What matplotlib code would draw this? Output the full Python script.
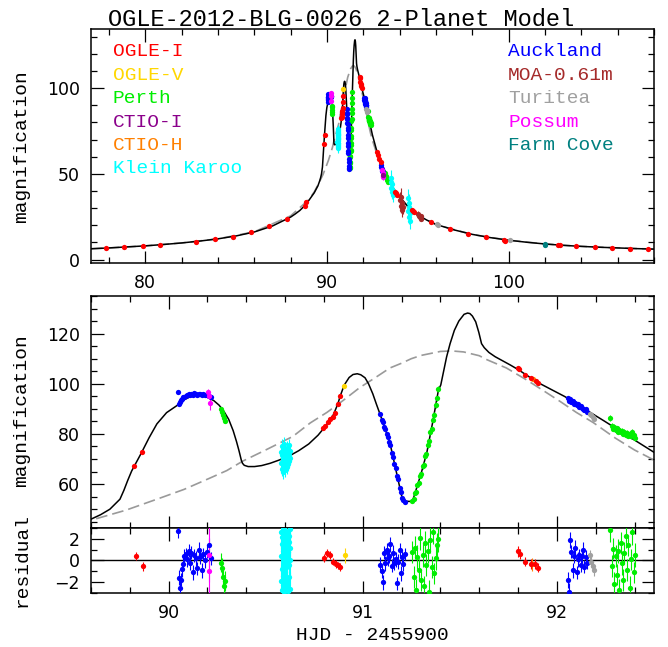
import matplotlib
matplotlib.use("Agg")
import matplotlib.pyplot as plt
from matplotlib.ticker import MultipleLocator

# model light curves (HJD-2455900, magnification)
model_t = [77.0, 78.0, 79.0, 80.0, 81.0, 82.0, 83.0, 84.0, 85.0, 86.0, 87.0, 88.0, 88.25, 88.5,
           88.75, 89.0, 89.15, 89.3, 89.4, 89.5, 89.6, 89.65, 89.698, 89.72, 89.75, 89.77, 89.79,
           89.81, 89.86, 89.90, 89.94, 89.99, 90.043, 90.08, 90.123, 90.16, 90.193, 90.233,
           90.26, 90.283, 90.31, 90.333, 90.35, 90.363, 90.375, 90.381, 90.39, 90.41, 90.443,
           90.48, 90.523, 90.57, 90.623, 90.67, 90.722, 90.77, 90.80, 90.822, 90.85, 90.872,
           90.885, 90.905, 90.93, 90.95, 90.972, 90.99, 91.012, 91.03, 91.052, 91.07, 91.092,
           91.14, 91.16, 91.18, 91.20, 91.21, 91.215, 91.245, 91.255, 91.26, 91.28, 91.30,
           91.33, 91.36, 91.39, 91.402, 91.432, 91.45, 91.472, 91.495, 91.522, 91.54, 91.552,
           91.565, 91.582, 91.598, 91.612, 91.626, 91.65, 91.682, 91.72, 91.76, 91.802,
           91.90, 92.041, 92.14, 92.241, 92.37, 92.5, 92.75, 93.0, 93.3, 93.6,
           94.0, 94.5, 95.0, 95.5, 96.0, 97.0, 98.0, 99.0, 100.0, 101.0, 102.0, 103.0, 104.0,
           105.0, 106.0, 107.0, 108.0]
model_A = [6.3, 6.8, 7.4, 8.0, 8.8, 9.7, 10.8, 12.1, 13.8, 16.1, 19.6, 24.8, 26.6, 28.6,
           31.2, 34.5, 36.8, 39.0, 41.0, 43.0, 46.0, 47.8, 50.0, 51.7, 54.0, 57.5, 61.5,
           65.2, 72.4, 78.5, 84.0, 88.5, 91.3, 93.6, 95.3, 95.6, 94.9, 93.3,
           91.5, 89.3, 85.8, 81.3, 77.0, 73.3, 69.5, 68.3, 67.5, 67.0, 67.0,
           67.4, 68.3, 69.6, 71.3, 73.3, 76.0, 79.5, 82.3, 84.6, 87.8, 92.0,
           95.3, 99.5, 102.5, 103.7, 104.0, 103.6, 102.4, 100.0, 96.0, 92.0, 87.3,
           76.5, 69.5, 62.5, 55.5, 53.6, 53.2, 53.1, 53.3, 54.0, 59.0, 64.0,
           72.5, 84.5, 97.5, 99.5, 110.7, 116.0, 121.3, 125.0, 127.7, 128.2, 128.0,
           127.0, 124.7, 120.5, 116.0, 114.4, 112.5, 110.8, 109.2, 107.5, 105.6,
           100.6, 94.9, 90.1, 85.3, 79.0, 72.7, 63.0, 56.0, 49.0, 42.5,
           36.5, 30.5, 26.0, 23.0, 20.5, 17.3, 14.7, 12.8, 11.3, 10.1, 9.1, 8.3, 7.7,
           7.2, 6.8, 6.4, 6.1]

pspl_t = [77.0, 78.0, 80.0, 82.0, 84.0, 86.0, 88.0, 89.0, 89.3, 89.6, 89.78, 89.955, 90.08,
          90.213, 90.3, 90.383, 90.5, 90.64, 90.73, 90.816, 90.9, 90.985, 91.06, 91.14, 91.2,
          91.25, 91.3, 91.40, 91.46, 91.52, 91.6, 91.64, 91.74, 91.845, 91.93, 92.016, 92.1,
          92.188, 92.3, 92.4, 92.5, 92.75, 93.0, 93.3, 93.6, 94.0, 94.5, 95.0, 96.0, 98.0,
          100.0, 102.0, 104.0, 106.0, 108.0]
pspl_A = [6.3, 6.8, 8.0, 9.7, 12.1, 16.2, 25.5, 35.0, 39.5, 45.6, 49.6, 54.4, 57.9,
          62.4, 65.4, 69.2, 73.6, 79.0, 84.4, 88.6, 93.4, 98.5, 102.2, 106.3, 108.2,
          110.0, 111.3, 112.9, 113.1, 112.7, 111.2, 109.6, 106.3, 101.5, 97.3, 93.0, 88.6,
          84.5, 78.4, 73.6, 69.6, 61.5, 54.5, 48.0, 42.0, 36.0, 30.2, 25.8, 20.4, 14.6,
          11.3, 9.1, 7.7, 6.8, 6.1]

# OGLE-I
ogle_i_t = [77.85, 78.85, 79.85, 80.80, 82.80, 83.84, 84.83, 85.80, 86.80, 87.80, 88.78, 88.83,
            89.82, 89.864, 90.795, 90.808, 90.820, 90.834, 90.846, 90.858, 90.872, 90.885,
            91.800, 91.806, 91.836, 91.867, 91.890, 91.905, 92.75, 92.80, 92.88, 92.95,
            93.75, 93.80, 93.85, 94.66, 94.71, 94.77, 95.73, 96.75, 97.74, 98.74, 99.72, 99.80,
            102.70, 102.80, 103.73, 104.73, 105.70, 106.68, 107.66]
ogle_i_A = [6.6, 7.4, 7.8, 8.6, 10.3, 11.9, 13.4, 16.0, 19.3, 23.9, 31.2, 33.6,
            67.3, 72.9, 82.4, 83.3, 84.9, 86.0, 86.9, 88.3, 92.0, 95.3,
            106.3, 105.7, 103.7, 102.4, 101.3, 100.3, 62.5, 61.0, 58.6, 56.8,
            39.3, 38.6, 37.9, 29.2, 28.6, 27.9, 21.8, 17.9, 15.0, 13.0, 11.3, 11.1,
            8.4, 8.3, 7.8, 7.2, 6.8, 6.4, 6.2]
ogle_i_e = [0.3, 0.3, 0.3, 0.3, 0.3, 0.3, 0.4, 0.4, 0.4, 0.5, 0.6, 0.6,
            0.5, 0.5, 0.5, 0.5, 0.5, 0.5, 0.5, 0.5, 0.5, 0.5,
            0.6, 0.6, 0.6, 0.6, 0.6, 0.6, 0.6, 0.6, 0.6, 0.6,
            0.6, 0.6, 0.6, 0.5, 0.5, 0.5, 0.5, 0.4, 0.4, 0.4, 0.4, 0.4,
            0.3, 0.3, 0.3, 0.3, 0.3, 0.3, 0.3]
ogle_i_rt = [89.83, 89.87, 90.80, 90.815, 90.83, 90.845, 90.86, 90.875, 90.885,
             91.80, 91.81, 91.835, 91.865, 91.885, 91.905]
ogle_i_r = [0.4, -0.55, 0.25, 0.7, 0.5, -0.1, -0.3, -0.45, -0.6,
            0.85, 0.6, -0.1, -0.3, -0.3, -0.65]
ogle_i_re = [0.4, 0.4, 0.35, 0.35, 0.35, 0.35, 0.35, 0.35, 0.35,
             0.5, 0.5, 0.45, 0.45, 0.45, 0.45]

# OGLE-V
ogle_v_t = [90.905]
ogle_v_A = [99.3]
ogle_v_e = [0.7]
ogle_v_rt = [90.907]
ogle_v_r = [0.47]
ogle_v_re = [0.7]

# Perth
perth_t = [90.270, 90.275, 90.280, 90.285, 90.290,
           91.255, 91.262, 91.268, 91.275, 91.282, 91.288, 91.295, 91.302, 91.308, 91.315,
           91.322, 91.328, 91.335, 91.342, 91.348, 91.355, 91.362, 91.368, 91.375, 91.382, 91.388,
           92.275, 92.282, 92.288, 92.295, 92.302, 92.308, 92.315, 92.322, 92.328, 92.335,
           92.342, 92.348, 92.355, 92.362, 92.368, 92.375, 92.382, 92.388, 92.395, 92.402,
           93.22, 93.25, 93.28, 93.31, 93.34, 93.37]
perth_A = [89.8, 88.9, 87.4, 86.2, 85.1,
           53.2, 54.2, 56.6, 56.9, 59.8, 60.6, 63.3, 64.0, 67.1, 67.8,
           71.2, 72.0, 75.6, 77.0, 80.7, 82.1, 85.7, 87.6, 91.5, 94.2, 97.9,
           86.5, 83.2, 82.0, 82.8, 81.4, 82.3, 80.9, 81.7, 80.6, 81.2,
           80.1, 80.8, 79.7, 80.4, 79.3, 80.0, 79.1, 80.6, 79.5, 78.4,
           50.5, 48.5, 47.8, 46.5, 46.0, 45.5]
perth_e = [0.8, 0.8, 0.8, 0.8, 0.8,
           0.9, 0.9, 1.0, 0.9, 1.0, 0.9, 1.0, 0.9, 1.0, 1.0,
           1.0, 0.9, 1.0, 1.0, 1.1, 1.0, 1.1, 1.0, 1.1, 1.1, 1.2,
           1.2, 1.0, 1.0, 1.1, 1.0, 1.0, 1.1, 1.0, 1.0, 1.1,
           1.0, 1.0, 1.1, 1.0, 1.0, 1.1, 1.0, 1.2, 1.0, 1.1,
           1.5, 1.5, 1.5, 1.5, 1.5, 1.5]
perth_rt = perth_t[:46]
perth_r = [-0.2, -0.7, -1.5, -2.4, -1.9,
           0.8, -1.5, 1.2, -2.7, 0.3, -0.9, 2.1, -1.8, 0.5, -2.4,
           1.6, -0.4, 0.9, -2.9, 1.9, -0.6, 2.6, -1.2, 0.2, 1.4, 2.0,
           2.8, -0.5, 1.1, -2.2, 0.4, -1.3, 0.9, -2.7, 1.6, -0.2,
           -1.8, 0.7, 2.3, -0.9, 1.4, -2.5, 0.1, 2.6, -1.1, 0.5]
perth_re = [0.9, 0.9, 0.9, 0.9, 0.9,
            1.0, 1.0, 1.1, 1.0, 1.1, 1.0, 1.1, 1.0, 1.1, 1.0,
            1.1, 1.0, 1.1, 1.1, 1.2, 1.0, 1.1, 1.0, 1.1, 1.1, 1.2,
            1.1, 1.0, 1.0, 1.1, 1.0, 1.0, 1.1, 1.0, 1.0, 1.1,
            1.0, 1.0, 1.1, 1.0, 1.0, 1.1, 1.0, 1.2, 1.0, 1.1]

# CTIO-I
ctio_i_t = [93.09]
ctio_i_A = [49.5]
ctio_i_e = [1.0]

# CTIO-H
ctio_h_t = [91.875]
ctio_h_A = [101.8]
ctio_h_e = [0.6]
ctio_h_rt = [91.872]
ctio_h_r = [-0.35]
ctio_h_re = [0.6]

# Klein Karoo
kk_t = [90.578, 90.580, 90.582, 90.584, 90.586, 90.588, 90.590, 90.592, 90.594, 90.596,
        90.598, 90.600, 90.602, 90.604, 90.606, 90.608, 90.610, 90.612, 90.614, 90.616,
        90.618, 90.620, 90.622, 90.624, 90.626,
        93.50, 93.52, 93.54, 93.56, 93.58, 93.60, 93.62,
        94.45, 94.47, 94.49, 94.51, 94.53, 94.55, 94.57]
kk_A = [68.5, 73.0, 66.2, 71.8, 75.1, 64.8, 69.9, 72.6, 67.4, 76.0,
        70.8, 65.5, 73.9, 68.1, 71.2, 74.5, 66.8, 70.3, 72.9, 67.9,
        75.4, 69.2, 71.7, 73.4, 70.6,
        47.5, 42.0, 45.5, 39.5, 44.0, 41.0, 37.5,
        36.0, 28.5, 33.0, 25.0, 30.5, 22.5, 27.0]
kk_e = [2.6, 2.4, 2.8, 2.5, 2.7, 2.6, 2.4, 2.5, 2.8, 2.6,
        2.5, 2.7, 2.4, 2.6, 2.5, 2.8, 2.6, 2.4, 2.5, 2.7,
        2.6, 2.5, 2.4, 2.6, 2.5,
        4.5, 4.0, 4.5, 4.0, 4.5, 4.0, 4.0,
        5.0, 4.5, 5.0, 4.5, 5.0, 4.5, 4.5]
kk_rt = [90.577, 90.579, 90.580, 90.582, 90.583, 90.585, 90.586, 90.588, 90.589, 90.591,
         90.592, 90.594, 90.595, 90.597, 90.598, 90.600, 90.601, 90.603, 90.604, 90.606,
         90.607, 90.609, 90.610, 90.612, 90.613, 90.615, 90.616, 90.618, 90.619, 90.621,
         90.622, 90.624, 90.625, 90.627, 90.628]
kk_r = [2.6, -1.9, 0.4, -2.7, 1.5, -0.8, 2.2, -2.3, 0.9, -1.4,
        2.8, -0.2, 1.1, -2.9, 0.6, -1.1, 1.9, -2.5, 0.2, 2.5,
        -0.6, -1.7, 1.3, -2.1, 0.8, 2.7, -2.8, 1.7, -0.4, 2.3,
        -1.5, 0.0, -2.6, 1.2, 2.9]
kk_re = [1.5, 1.6, 1.4, 1.5, 1.6, 1.5, 1.4, 1.6, 1.5, 1.5,
         1.6, 1.4, 1.5, 1.6, 1.5, 1.4, 1.5, 1.6, 1.5, 1.5,
         1.4, 1.6, 1.5, 1.5, 1.6, 1.5, 1.4, 1.6, 1.5, 1.5,
         1.6, 1.4, 1.5, 1.6, 1.5]

# Auckland
auck_t = [90.050, 90.055, 90.060, 90.065, 90.070, 90.075, 90.080, 90.088, 90.095, 90.103,
          90.110, 90.118, 90.125, 90.133, 90.140, 90.148, 90.155, 90.163, 90.170, 90.180,
          90.190, 90.200, 90.210, 90.220,
          91.090, 91.097, 91.103, 91.110, 91.117, 91.123, 91.130, 91.137, 91.143, 91.150,
          91.157, 91.163, 91.170, 91.177, 91.183, 91.190, 91.197, 91.203, 91.210, 91.217,
          92.055, 92.062, 92.068, 92.075, 92.082, 92.088, 92.095, 92.102, 92.108, 92.115,
          92.122, 92.128, 92.135, 92.142, 92.148, 92.155,
          92.98, 93.00, 93.02, 93.04, 93.06]
auck_A = [96.6, 92.0, 92.8, 93.6, 94.0, 94.6, 94.9, 95.3, 95.4, 95.8,
          95.6, 96.0, 95.7, 96.2, 95.9, 95.6, 96.1, 95.8, 95.5, 96.0,
          95.4, 95.7, 95.2, 94.8,
          87.9, 85.7, 84.9, 82.8, 81.8, 79.9, 78.9, 76.8, 75.7, 72.6,
          70.9, 68.2, 66.3, 63.2, 61.9, 58.6, 56.9, 54.5, 53.6, 52.7,
          94.5, 93.2, 94.0, 92.6, 93.1, 91.9, 92.4, 91.5, 91.8, 90.8,
          91.2, 90.3, 90.0, 89.6, 89.9, 88.9,
          55.2, 54.0, 53.1, 51.8, 50.9]
auck_e = [0.8, 0.8, 0.8, 0.8, 0.8, 0.8, 0.8, 0.8, 0.8, 0.8,
          0.8, 0.8, 0.8, 0.8, 0.8, 0.8, 0.8, 0.8, 0.8, 0.8,
          0.8, 0.8, 0.8, 0.8,
          0.7, 0.7, 0.7, 0.7, 0.7, 0.7, 0.7, 0.7, 0.7, 0.7,
          0.7, 0.7, 0.7, 0.7, 0.7, 0.7, 0.7, 0.7, 0.7, 0.7,
          0.8, 0.8, 0.8, 0.8, 0.8, 0.8, 0.8, 0.8, 0.8, 0.8,
          0.8, 0.8, 0.8, 0.8, 0.8, 0.8,
          1.0, 1.0, 1.0, 1.0, 1.0]
auck_rt = auck_t[:60]
auck_r = [2.7, -1.6, -2.5, -1.8, -0.8, -0.3, 0.4, 0.6, 0.1, 0.9,
          -0.2, 0.7, -1.1, 0.5, 0.2, -0.7, 1.0, 0.3, -0.9, 0.6,
          0.0, 0.8, 1.4, 0.2,
          -0.4, -1.0, -2.0, 0.7, -0.25, 1.0, 0.2, 0.4, 1.5, -0.5,
          0.7, -0.25, 0.1, -2.1, -0.1, 1.0, -1.2, 0.3, -0.3, 0.6,
          -1.8, -2.9, 1.9, 0.8, -0.9, 0.4, 1.2, -1.1, 0.1, 0.5,
          -0.4, 0.4, 1.0, -0.6, 0.3, -0.2]
auck_re = [0.6, 0.7, 0.7, 0.6, 0.7, 0.6, 0.7, 0.6, 0.7, 0.6,
           0.7, 0.6, 0.7, 0.6, 0.7, 0.6, 0.7, 0.6, 0.7, 0.6,
           0.7, 0.6, 0.7, 0.6,
           0.7, 0.6, 0.7, 0.6, 0.7, 0.6, 0.7, 0.6, 0.7, 0.6,
           0.7, 0.6, 0.7, 0.6, 0.7, 0.6, 0.7, 0.6, 0.7, 0.6,
           0.7, 0.8, 0.7, 0.6, 0.7, 0.6, 0.7, 0.6, 0.7, 0.6,
           0.7, 0.6, 0.7, 0.6, 0.7, 0.6]

# MOA-0.61m
moa_t = [94.02, 94.05, 94.08, 94.11, 94.14, 94.17, 95.00, 95.05, 95.10, 95.15, 95.20]
moa_A = [34.5, 31.0, 36.5, 29.0, 33.0, 30.5, 26.8, 25.5, 24.8, 25.2, 23.8]
moa_e = [5.0, 4.0, 5.5, 4.0, 4.5, 4.0, 1.5, 1.5, 1.5, 1.5, 1.5]

# Turitea
tur_t = [92.170, 92.178, 92.185, 92.192, 96.08, 96.12, 100.08]
tur_A = [88.0, 87.5, 86.6, 86.0, 20.6, 20.2, 11.2]
tur_e = [0.6, 0.6, 0.6, 0.6, 1.0, 1.0, 1.2]
tur_rt = tur_t[:4]
tur_r = [0.5, -0.1, -0.55, -0.9]
tur_re = [0.5, 0.5, 0.5, 0.5]

# Possum
pos_t = [90.205, 90.210, 90.214, 93.05, 93.07, 93.09, 93.11]
pos_A = [96.9, 95.3, 92.4, 52.0, 50.5, 49.0, 48.0]
pos_e = [0.9, 1.3, 2.8, 1.5, 1.5, 1.5, 1.5]
pos_rt = [90.208, 90.211]
pos_r = [0.5, -1.0]
pos_re = [4.2, 1.0]

# Farm Cove
fc_t = [102.00, 102.02]
fc_A = [9.2, 8.6]
fc_e = [1.3, 1.2]

# drawing order (last on top)
sets = [
    ("Perth", "#00ee00", perth_t, perth_A, perth_e, perth_rt, perth_r, perth_re),
    ("Auckland", "#0000ff", auck_t, auck_A, auck_e, auck_rt, auck_r, auck_re),
    ("Klein Karoo", "#00ffff", kk_t, kk_A, kk_e, kk_rt, kk_r, kk_re),
    ("MOA-0.61m", "#a52a2a", moa_t, moa_A, moa_e, [], [], []),
    ("Turitea", "#a0a0a0", tur_t, tur_A, tur_e, tur_rt, tur_r, tur_re),
    ("Farm Cove", "#008080", fc_t, fc_A, fc_e, [], [], []),
    ("Possum", "#ff00ff", pos_t, pos_A, pos_e, pos_rt, pos_r, pos_re),
    ("CTIO-I", "#8b008b", ctio_i_t, ctio_i_A, ctio_i_e, [], [], []),
    ("CTIO-H", "#ff8000", ctio_h_t, ctio_h_A, ctio_h_e, ctio_h_rt, ctio_h_r, ctio_h_re),
    ("OGLE-V", "#ffd700", ogle_v_t, ogle_v_A, ogle_v_e, ogle_v_rt, ogle_v_r, ogle_v_re),
    ("OGLE-I", "#ff0000", ogle_i_t, ogle_i_A, ogle_i_e, ogle_i_rt, ogle_i_r, ogle_i_re),
]
left_labels = ["OGLE-I", "OGLE-V", "Perth", "CTIO-I", "CTIO-H", "Klein Karoo"]
right_labels = ["Auckland", "MOA-0.61m", "Turitea", "Possum", "Farm Cove"]
colors = {s[0]: s[1] for s in sets}

MONO = "Liberation Mono"

fig = plt.figure(figsize=(6.68, 6.47), dpi=100)
ax1 = fig.add_axes([0.136, 0.5935, 0.843, 0.3617])
ax2 = fig.add_axes([0.136, 0.1839, 0.843, 0.3586])
ax3 = fig.add_axes([0.136, 0.0835, 0.843, 0.1004])


def style(ax):
    ax.tick_params(which="both", direction="in", top=True, right=True, width=0.9,
                   labelsize=12.5, pad=8)
    ax.tick_params(which="major", length=9)
    ax.tick_params(which="minor", length=4.5)
    for s in ax.spines.values():
        s.set_linewidth(1.1)


def draw_points(ax, t, A, e, c, ms=3.8):
    if len(t) == 0:
        return
    ax.errorbar(t, A, yerr=e, fmt="o", ms=ms, color=c, ecolor=c, mew=0,
                elinewidth=0.8, capsize=1.4, capthick=0.8, zorder=3)


for ax in (ax1, ax2):
    ax.plot(pspl_t, pspl_A, color="#9a9a9a", lw=1.2, dashes=(7, 3), zorder=2)
    ax.plot(model_t, model_A, color="black", lw=1.1, zorder=2, solid_joinstyle="round")
    for name, c, t, A, e, rt, r, re in sets:
        draw_points(ax, t, A, e, c)

for name, c, t, A, e, rt, r, re in sets:
    draw_points(ax3, rt, r, re, c)
ax3.axhline(0, color="black", lw=1.0, zorder=2)

# top panel
ax1.set_xlim(77, 108)
ax1.set_ylim(-2, 134.5)
ax1.xaxis.set_major_locator(MultipleLocator(10))
ax1.xaxis.set_minor_locator(MultipleLocator(2))
ax1.yaxis.set_major_locator(MultipleLocator(50))
ax1.yaxis.set_minor_locator(MultipleLocator(10))
style(ax1)
for i, lab in enumerate(left_labels):
    ax1.text(0.039, 0.902 - i * 0.1, lab, transform=ax1.transAxes, color=colors[lab],
             fontsize=14, family=MONO, va="center", ha="left")
for i, lab in enumerate(right_labels):
    ax1.text(0.741, 0.902 - i * 0.1, lab, transform=ax1.transAxes, color=colors[lab],
             fontsize=14, family=MONO, va="center", ha="left")

# zoom panel
ax2.set_xlim(89.6, 92.5)
ax2.set_ylim(42.5, 135)
ax2.xaxis.set_major_locator(MultipleLocator(1))
ax2.xaxis.set_minor_locator(MultipleLocator(0.2))
ax2.yaxis.set_major_locator(MultipleLocator(20))
ax2.yaxis.set_minor_locator(MultipleLocator(5))
style(ax2)
ax2.tick_params(labelbottom=False)

# residuals
ax3.set_xlim(89.6, 92.5)
ax3.set_ylim(-3, 3)
ax3.xaxis.set_major_locator(MultipleLocator(1))
ax3.xaxis.set_minor_locator(MultipleLocator(0.2))
ax3.yaxis.set_major_locator(MultipleLocator(2))
ax3.yaxis.set_minor_locator(MultipleLocator(1))
style(ax3)

fig.text(108 / 668, 1 - 26 / 647, "OGLE-2012-BLG-0026 2-Planet Model", family=MONO,
         fontsize=17, ha="left", va="baseline")
fig.text(22 / 668, 0.774, "magnification", family=MONO, fontsize=14, rotation=90,
         ha="center", va="center")
fig.text(22 / 668, 0.366, "magnification", family=MONO, fontsize=14, rotation=90,
         ha="center", va="center")
fig.text(22 / 668, 0.134, "residual", family=MONO, fontsize=14, rotation=90,
         ha="center", va="center")
fig.text(372 / 668, 1 - 635 / 647, "HJD - 2455900", family=MONO, fontsize=14,
         ha="center", va="center")

fig.savefig("out.png", dpi=100)
